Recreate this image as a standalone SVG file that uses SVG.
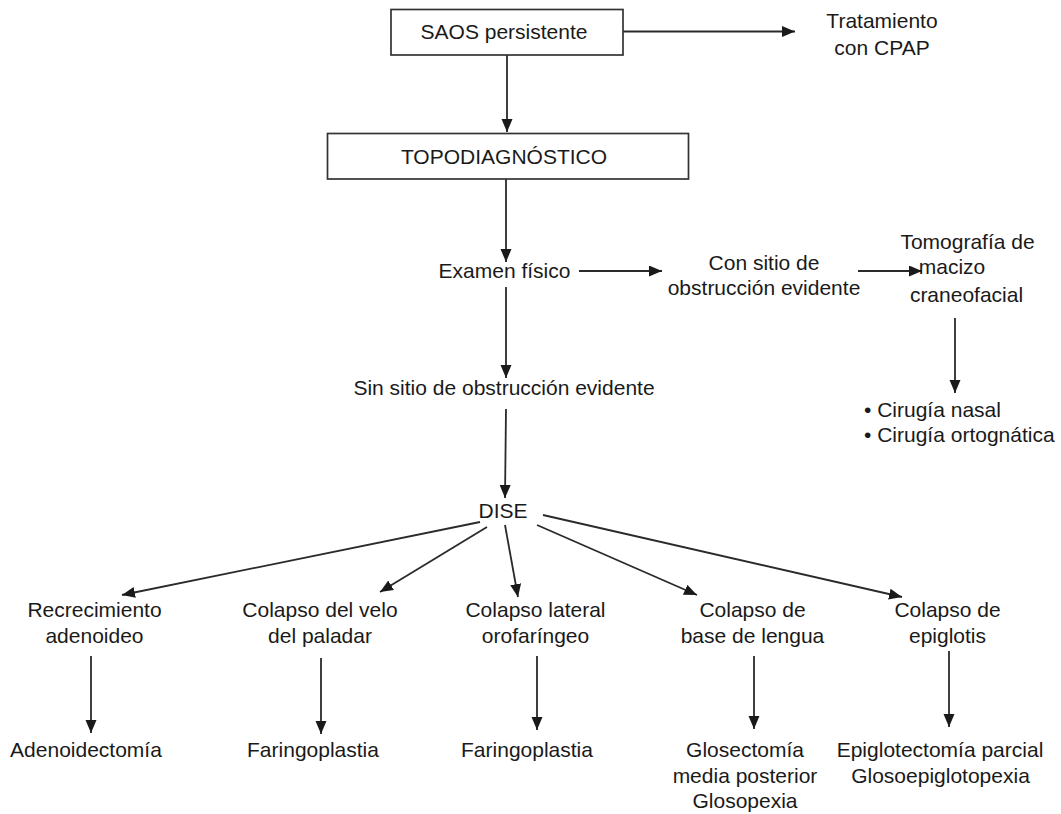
<svg xmlns="http://www.w3.org/2000/svg" width="1061" height="814" viewBox="0 0 1061 814">
<defs>
<marker id="ah" markerUnits="userSpaceOnUse" markerWidth="14" markerHeight="12" refX="13" refY="5.5" orient="auto">
<path d="M0,0 L13,5.5 L0,11 z" fill="#1a1a1a"/>
</marker>
<style>
text{font-family:"Liberation Sans",Arial,sans-serif;font-size:21px;fill:#1a1a1a}
.m{text-anchor:middle}
.box{fill:#fff;stroke:#333;stroke-width:1.7}
.c line{stroke:#2a2a2a;stroke-width:1.8;marker-end:url(#ah)}
</style>
</defs>
<rect width="1061" height="814" fill="#fff"/>
<g class="c" id="connectors">
<line x1="623" y1="31.5" x2="795" y2="31.5"/>
<line x1="507" y1="55" x2="507" y2="132"/>
<line x1="506" y1="179" x2="506" y2="262"/>
<line x1="579" y1="271" x2="662" y2="271"/>
<line x1="858" y1="271" x2="922" y2="271"/>
<line x1="955" y1="318" x2="955" y2="393"/>
<line x1="506" y1="287" x2="506" y2="378"/>
<line x1="506" y1="409" x2="505" y2="498"/>
<line x1="480" y1="522" x2="122" y2="595"/>
<line x1="487" y1="527" x2="380" y2="592"/>
<line x1="505" y1="525" x2="518" y2="597"/>
<line x1="537" y1="525" x2="697" y2="595"/>
<line x1="543" y1="515" x2="902" y2="597"/>
<line x1="91" y1="656" x2="91" y2="733"/>
<line x1="321" y1="658" x2="321" y2="734"/>
<line x1="537" y1="656" x2="537" y2="730"/>
<line x1="754" y1="656" x2="754" y2="729"/>
<line x1="949" y1="651" x2="949" y2="727"/>
</g>
<g id="saos"><rect class="box" x="391" y="9.5" width="232" height="45.5"/><text class="m" x="504" y="39">SAOS persistente</text></g>
<g id="cpap"><text class="m" x="882" y="27.5">Tratamiento</text><text class="m" x="882" y="54.5">con CPAP</text></g>
<g id="topo"><rect class="box" x="327.5" y="133.5" width="361" height="45.5"/><text class="m" x="504" y="163.5">TOPODIAGNÓSTICO</text></g>
<g id="examen"><text class="m" x="504.5" y="277.5">Examen físico</text></g>
<g id="consitio"><text class="m" x="764" y="270">Con sitio de</text><text class="m" x="764" y="295">obstrucción evidente</text></g>
<g id="tomo"><text class="m" x="967.5" y="248.5">Tomografía de</text><text class="m" x="952" y="274">macizo</text><text class="m" x="966.5" y="301.5">craneofacial</text></g>
<g id="cirugia"><text x="864" y="416.5">• Cirugía nasal</text><text x="864" y="441.5">• Cirugía ortognática</text></g>
<g id="sinsitio"><text class="m" x="504" y="394.5">Sin sitio de obstrucción evidente</text></g>
<g id="dise"><text class="m" x="503" y="517.5">DISE</text></g>
<g id="recre"><text class="m" x="94.5" y="616.5">Recrecimiento</text><text class="m" x="94.5" y="642.5">adenoideo</text></g>
<g id="velo"><text class="m" x="320" y="616.5">Colapso del velo</text><text class="m" x="320" y="642.5">del paladar</text></g>
<g id="lateral"><text class="m" x="535.5" y="616.5">Colapso lateral</text><text class="m" x="535.5" y="642.5">orofaríngeo</text></g>
<g id="base"><text class="m" x="752.5" y="616.5">Colapso de</text><text class="m" x="752.5" y="642.5">base de lengua</text></g>
<g id="epi"><text class="m" x="947.5" y="616.5">Colapso de</text><text class="m" x="947.5" y="642.5">epiglotis</text></g>
<g id="adeno"><text class="m" x="86" y="756.5">Adenoidectomía</text></g>
<g id="faringo1"><text class="m" x="313" y="756.5">Faringoplastia</text></g>
<g id="faringo2"><text class="m" x="527" y="756.5">Faringoplastia</text></g>
<g id="glose"><text class="m" x="745" y="756.5">Glosectomía</text><text class="m" x="745" y="782.5">media posterior</text><text class="m" x="745" y="808">Glosopexia</text></g>
<g id="epiglo"><text class="m" x="940" y="756.5">Epiglotectomía parcial</text><text class="m" x="940.5" y="782.5">Glosoepiglotopexia</text></g>
</svg>
